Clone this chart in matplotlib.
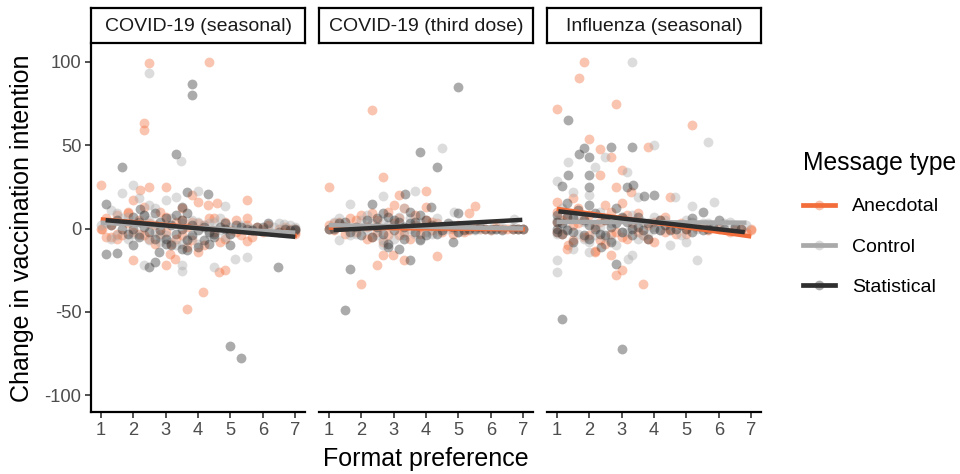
import numpy as np
import matplotlib
matplotlib.use("Agg")
import matplotlib.pyplot as plt
from matplotlib.lines import Line2D

plt.rcParams['font.family'] = ['Liberation Sans', 'DejaVu Sans']
plt.rcParams['axes.unicode_minus'] = False

groups = ['Anecdotal', 'Control', 'Statistical']
panels = ['COVID-19 (seasonal)', 'COVID-19 (third dose)', 'Influenza (seasonal)']

# ---- COVID-19 seasonal ----
cs_anec_x = [2.5, 4.33, 2.33, 2.33, 1.0, 2.5, 3.0, 5.5, 3.65, 4.16, 4.64, 4.84, 2.0, 3.0, 3.14, 3.3, 4.3, 4.6, 4.0, 2.2,
             5.5, 3.83, 2.0, 1.83, 1.33, 1.5,
             1.0, 1.05, 1.17, 1.33, 1.5, 1.67, 1.83, 2.0, 2.17, 2.33, 2.5, 2.67, 2.83, 3.0, 3.17, 3.33, 3.5, 3.67,
             3.83, 4.0, 4.17, 4.33, 4.5, 4.67, 4.83, 5.0, 5.17, 5.33, 5.5, 5.67, 5.83, 6.0, 6.17, 6.5, 6.67, 6.83,
             7.0, 7.0, 3.5, 2.83, 4.0,
             1.17, 1.5, 1.83, 2.17, 2.5, 2.67, 3.0, 3.33, 3.5, 3.67, 3.83, 4.17, 4.5, 4.83, 5.17, 5.5, 6.0, 6.67,
             7.0, 2.33]
cs_anec_y = [99, 100, 63, 59, 26, 25, 25, 17, -48, -38, -26, -25, -19, -22, -15, -18, 14, 15, 16, 23,
             -7.6, 20, 17, 10, -5, -3,
             0, 0, 6, 2, 8, -4, 3, -2, 5, 13, -6, 2, -3, 7, -9, 4, -4, 1,
             -7, 3, -10, 6, -2, -8, 4, -1, 5, -4, 6, -5, 1, -2, 2, 0, -1, 0,
             -2, 0, 12, 10, -14,
             -5, -6, 9, -3, 3, -9, -2, -6, 5, -11, 4, 2, 6, -6, -2, 2, 0, 1,
             -3, -4]
cs_ctrl_x = [2.5, 3.48, 2.0, 1.66, 4.0, 4.83, 3.5, 3.5, 4.5, 5.15, 5.5, 2.33, 6.65,
             1.17, 1.33, 1.5, 1.67, 1.83, 2.0, 2.17, 2.33, 2.5, 2.67, 2.83, 3.0, 3.17, 3.33, 3.5, 3.67, 3.83,
             4.0, 4.17, 4.33, 4.5, 4.67, 4.83, 5.0, 5.33, 5.67, 6.0, 6.33, 6.83, 7.0, 2.83, 3.33, 1.5, 2.5,
             1.0, 1.33, 1.83, 2.17, 2.5, 2.67, 3.0, 3.17, 3.5, 3.83, 4.0, 4.33, 4.67, 5.0, 5.5, 6.17, 6.5, 7.0]
cs_ctrl_y = [93, 40.6, 26, 21, 22.7, 13.7, -22, -25.5, -23, -18, -17, -22, 2.4,
             3, 11, -4, 6, -6, -3, 18, 8, -7, 12, -5, 17, -8, 19, 3, -6, 5,
             -9, 2, -3, 4, -1, -5, 1, 2, 0, -1, 1, 2, -1, -8, -10, 9, 14,
             2, -6, 7, -4, 5, -2, -4, 6, -9, -5, 4, 3, 6, -3, 1, 0, 3, 1]
cs_stat_x = [3.82, 3.82, 3.32, 1.66, 4.31, 1.15, 1.15, 1.5, 2.5, 2.66, 2.81, 4.98, 5.33, 6.48, 2.0, 4.98,
             3.5, 3.65, 2.2, 3.65, 3.5,
             1.33, 1.67, 2.0, 2.0, 2.33, 2.5, 2.67, 2.83, 3.0, 3.0, 3.17, 3.33, 3.33, 3.5, 3.67, 3.83, 4.0,
             4.17, 4.33, 4.5, 4.67, 4.83, 5.0, 5.17, 5.5, 5.83, 6.17, 6.5, 6.83, 7.0, 3.0, 2.17, 4.33,
             1.5, 1.83, 2.17, 2.33, 2.67, 2.83, 3.17, 3.5, 3.67, 3.83, 4.0, 4.17, 4.5, 4.83, 5.33, 5.67, 6.0,
             6.67, 7.0]
cs_stat_y = [86.7, 79.8, 44.6, 36.6, 20.7, 14.7, -15.5, -14.5, -23, -20, -14, -70.4, -77.4, -23, -10, -10,
             -12, -13, 11.7, 21.7, 13,
             2, 0, 0, 7, 1, -2, 9, -1, 6, -6, 2, -3, 8, 0, 9, -4, -1,
             -7, -2, -5, 1, 3, -3, 2, 0, 1, 3, -2, -1, -1, -9, 4, -9,
             5, -3, -5, 8, -6, 4, -10, 5, -7, 2, -11, 1, -3, 0, 1, -1, 1,
             0, 0]

# ---- COVID-19 third dose ----
td_anec_x = [2.32, 2.66, 1.0, 3.99, 5.5, 2.0, 2.5, 2.99, 3.32, 4.33, 3.17, 5.33, 2.66, 4.0,
             1.0, 1.0, 1.17, 1.33, 1.5, 1.67, 1.83, 2.0, 2.17, 2.33, 2.5, 2.67, 2.83, 3.0, 3.17, 3.33, 3.5,
             3.67, 3.83, 4.0, 4.17, 4.33, 4.5, 4.67, 4.83, 5.0, 5.17, 5.33, 5.5, 5.83, 6.0, 6.33, 6.67, 7.0,
             3.0, 2.33,
             1.17, 1.5, 1.83, 2.17, 2.5, 2.83, 3.17, 3.33, 3.67, 3.83, 4.17, 4.5, 4.83, 5.17, 5.67, 6.17, 6.5,
             6.83]
td_anec_y = [70.9, 30.6, 25, 22.7, 13.7, -33, -22, -16, -18.7, -16.5, 20, 9, -16, 13,
             0, 2, -1, 4, -3, 6, -2, 8, 1, -5, 5, -8, 10, 3, -4, 12, -6,
             2, -3, 5, -1, 3, -2, 1, -3, 2, 0, -1, 1, 0, -1, 0, 0, 0,
             14, 9,
             3, 1, 5, -6, -2, -4, 6, -2, 8, 1, 4, 1, 0, -2, 0, 1, 0,
             0]
td_ctrl_x = [4.5, 3.65, 2.68, 1.66, 1.33, 2.66, 4.87, 6.7,
             1.17, 1.5, 1.83, 2.0, 2.17, 2.33, 2.5, 2.83, 3.0, 3.17, 3.5, 3.67, 3.83, 4.0, 4.17, 4.33, 4.5,
             4.83, 5.0, 5.33, 5.67, 6.0, 6.33, 7.0, 3.33, 2.67,
             1.0, 1.33, 1.67, 2.17, 2.5, 2.67, 3.0, 3.33, 3.5, 3.83, 4.17, 4.67, 5.17, 5.5, 6.17, 6.67, 6.83]
td_ctrl_y = [48, 22.7, 19.7, 14.7, -6.6, -10, 9.7, 5.8,
             4, 1, -3, 5, -1, 3, -4, 2, -6, 7, 0, -3, 4, -2, 1, 6, -1,
             2, -2, 1, 0, -1, 1, 0, 12, -7,
             0, 6, -4, 8, 1, 4, 2, -4, 6, -6, -3, 0, 1, -1, 0, 1, 0]
td_stat_x = [5.0, 3.83, 4.33, 1.66, 1.49, 3.5, 3.35, 2.32, 4.16, 2.83, 4.82, 5.0,
             1.17, 1.33, 1.67, 2.0, 2.17, 2.5, 2.67, 2.83, 3.0, 3.17, 3.33, 3.5, 3.5, 3.67, 3.83, 4.0, 4.17,
             4.5, 4.67, 5.0, 5.33, 5.67, 6.0, 6.33, 6.67, 7.0, 2.83, 3.17,
             1.0, 1.5, 1.83, 2.33, 2.5, 2.67, 3.0, 3.33, 3.67, 3.83, 4.0, 4.33, 4.83, 5.17, 5.5, 5.83, 6.17,
             6.83]
td_stat_y = [84.8, 46, 37, -24.5, -49, -19, 20.7, 14.7, 13, -11, -8, 9,
             0, 3, -2, -4, 5, 1, -3, 7, -1, 4, -6, 10, 3, -2, 8, -4, 2,
             -1, 3, -2, 0, 1, 0, -1, 0, 0, -9, -12,
             0, 4, 1, -5, 6, 9, 5, 1, 4, -7, 5, -3, 1, -1, 0, 0, 0,
             0]

# ---- Influenza seasonal ----
fl_anec_x = [1.85, 1.68, 1.02, 2.83, 5.18, 2.0, 2.33, 3.83, 2.68, 3.02, 2.33, 2.83, 1.0, 4.5, 3.65, 3.02,
             2.83, 2.68, 2.19, 1.36, 7.0, 3.3, 1.5, 2.5,
             1.0, 1.0, 1.17, 1.33, 1.5, 1.67, 1.83, 2.0, 2.17, 2.33, 2.5, 2.67, 2.83, 3.0, 3.17, 3.33, 3.5,
             3.67, 3.83, 4.0, 4.17, 4.33, 4.5, 4.83, 5.0, 5.33, 5.67, 6.0, 6.33, 6.67, 7.0, 1.33, 2.17, 3.0,
             1.0, 1.17, 1.5, 1.67, 1.83, 2.0, 2.33, 2.5, 2.67, 3.0, 3.17, 3.5, 3.83, 4.0, 4.33, 4.67, 5.0, 5.5,
             6.5, 6.83]
fl_anec_y = [99.9, 90, 71.8, 74.8, 61.9, 53.9, 47.6, 49, 43, 35, 32, 25, 15.7, 19, -33, -25,
             -28, -16, -13.5, -10, 0, 22, 18, 14,
             4, 10, -3, 7, 2, 12, -5, 8, 1, -7, 5, 10, -2, 6, -6, 3, 9,
             -4, 2, -8, 5, -2, 0, 3, -3, 1, -1, 0, -2, 0, -1, -12, -14, 15,
             -2, 5, -7, 3, 6, -4, 4, -9, -3, -5, 8, -2, -6, 4, 7, -3, 0, 2,
             -1, -2]
fl_ctrl_x = [3.32, 5.67, 4.0, 1.34, 2.5, 2.17, 1.0, 3.17, 4.64, 5.84, 1.0, 1.0, 5.33, 3.32, 3.19, 4.5,
             5.0, 5.18, 2.0, 1.5, 3.5,
             1.0, 1.17, 1.33, 1.5, 1.67, 1.83, 2.0, 2.17, 2.33, 2.5, 2.67, 2.83, 3.0, 3.17, 3.33, 3.5, 3.67,
             3.83, 4.0, 4.17, 4.5, 4.83, 5.0, 5.33, 5.67, 6.0, 6.33, 6.83, 2.0, 1.5,
             1.0, 1.17, 1.33, 1.67, 1.83, 2.17, 2.33, 2.67, 3.0, 3.33, 3.67, 4.0, 4.33, 4.67, 5.17, 5.5, 6.17,
             6.5]
fl_ctrl_y = [99.9, 52, 50, 40, 43, 36.6, 28.7, 34, 19, 15.7, -19, -26, -19, -16, -18, -10,
             -8, 13.7, 20, 22, 19,
             5, 12, 0, 8, -3, 4, -8, 2, 10, -5, 3, -10, 6, -2, 1, -6, 4,
             -3, 7, -1, 2, -4, 5, 0, 3, 1, 4, 2, -14, -12,
             -3, 2, 9, 6, -6, -4, 1, -7, -2, 8, -4, 1, 5, 0, 4, 3, 3,
             2]
fl_stat_x = [1.34, 1.68, 1.85, 2.0, 2.68, 3.32, 1.34, 2.0, 1.17, 2.0, 3.17, 3.35, 3.68, 4.0, 5.5, 1.17,
             3.02, 2.83, 1.5, 2.36, 2.68, 6.0,
             1.0, 1.0, 1.0, 1.17, 1.33, 1.5, 1.67, 1.83, 2.0, 2.17, 2.33, 2.5, 2.67, 2.83, 3.0, 3.17, 3.33,
             3.5, 3.67, 3.83, 4.0, 4.17, 4.5, 4.83, 5.0, 5.17, 5.5, 5.83, 6.17, 6.67, 1.33, 2.0,
             1.0, 1.17, 1.33, 1.5, 1.83, 2.0, 2.17, 2.5, 2.83, 3.0, 3.33, 3.5, 3.83, 4.17, 4.33, 4.67, 5.17,
             5.67, 6.5]
fl_stat_y = [65, 44.6, 48, 42.6, 49, 49, 32, 32, 25.7, 25, 25, 26, 19.3, 20, 9.6, -54,
             -72, -21, -8, -11, -8, 5,
             0, 8, -2, 3, -1, 6, 11, -4, 2, 9, -3, 5, 1, 12, -2, 4, 0,
             7, -1, 3, 0, 5, -1, 2, 0, 6, -1, 1, 0, 0, 15, 14,
             4, -3, 7, -2, 5, -6, 0, -4, 3, 7, -4, 1, -6, -1, 2, 0, -2,
             0, 1]

# fitted lines (start / end per group)
cs_fit_x = [[1.0, 7.05], [1.0, 7.0], [1.15, 7.0]]
cs_fit_y = [[5.5, -4.5], [3.5, -2.5], [5.0, -5.0]]
td_fit_x = [[1.0, 7.05], [1.0, 7.0], [1.15, 6.97]]
td_fit_y = [[0.5, -0.5], [2.0, 0.0], [-1.0, 5.2]]
fl_fit_x = [[1.0, 7.0], [1.0, 6.85], [1.05, 6.8]]
fl_fit_y = [[11.8, -4.8], [4.0, 3.5], [10.3, -2.2]]

colors = ['#F26D3A', '#A9A9A9', '#2F2F2F']

data = [
    [(cs_anec_x, cs_anec_y), (cs_ctrl_x, cs_ctrl_y), (cs_stat_x, cs_stat_y)],
    [(td_anec_x, td_anec_y), (td_ctrl_x, td_ctrl_y), (td_stat_x, td_stat_y)],
    [(fl_anec_x, fl_anec_y), (fl_ctrl_x, fl_ctrl_y), (fl_stat_x, fl_stat_y)],
]
fits = [(cs_fit_x, cs_fit_y), (td_fit_x, td_fit_y), (fl_fit_x, fl_fit_y)]

W, H = 960, 474
fig = plt.figure(figsize=(9.6, 4.74), dpi=100)

lefts = [91, 319, 547]
pw = 214
top, bot = 45, 412
for p in range(3):
    ax = fig.add_axes([lefts[p] / W, 1 - bot / H, pw / W, (bot - top) / H])
    for g in range(3):
        xs, ys = data[p][g]
        ax.scatter(xs, ys, s=50, color=colors[g], alpha=0.4, linewidths=0, zorder=2)
    for g in range(3):
        fx, fy = fits[p][0][g], fits[p][1][g]
        ax.plot(fx, fy, color=colors[g], lw=3.2, solid_capstyle='butt', zorder=3)
    ax.set_xlim(0.7, 7.3)
    ax.set_ylim(-110, 110)
    ax.set_xticks(range(1, 8))
    ax.set_yticks([-100, -50, 0, 50, 100])
    for s in ['top', 'right']:
        ax.spines[s].set_visible(False)
    ax.spines['bottom'].set_linewidth(1.6)
    ax.spines['left'].set_linewidth(1.6)
    ax.tick_params(axis='both', colors='#333333', labelcolor='#4D4D4D', labelsize=13.2,
                   length=4, width=1.2, pad=3)
    if p > 0:
        ax.spines['left'].set_visible(False)
        ax.tick_params(axis='y', left=False, labelleft=False)
    # strip
    sax = fig.add_axes([lefts[p] / W, 1 - 43 / H, pw / W, 35 / H])
    sax.set_xticks([])
    sax.set_yticks([])
    for s in sax.spines.values():
        s.set_linewidth(1.6)
    sax.text(0.5, 0.47, panels[p], ha='center', va='center', fontsize=14, color='#1A1A1A',
             transform=sax.transAxes)

fig.text(22 / W, 1 - 228 / H, 'Change in vaccination intention', rotation=90, ha='center', va='center',
         fontsize=18, color='black')
fig.text(426 / W, 1 - 459 / H, 'Format preference', ha='center', va='center', fontsize=18, color='black')

handles = [Line2D([], [], color=c, lw=3.4, marker='o', ms=7,
                  markerfacecolor=matplotlib.colors.to_rgba(c, 0.4), markeredgewidth=0)
           for c in colors]
leg = fig.legend(handles, groups, loc='upper left', bbox_to_anchor=(803 / W, 1 - 151 / H),
                 frameon=False, title='Message type', title_fontsize=17.7, fontsize=14,
                 handlelength=1.65, labelspacing=1.17, handletextpad=0.88, alignment='left',
                 borderpad=0, borderaxespad=0)

fig.savefig('out.png', dpi=100)
